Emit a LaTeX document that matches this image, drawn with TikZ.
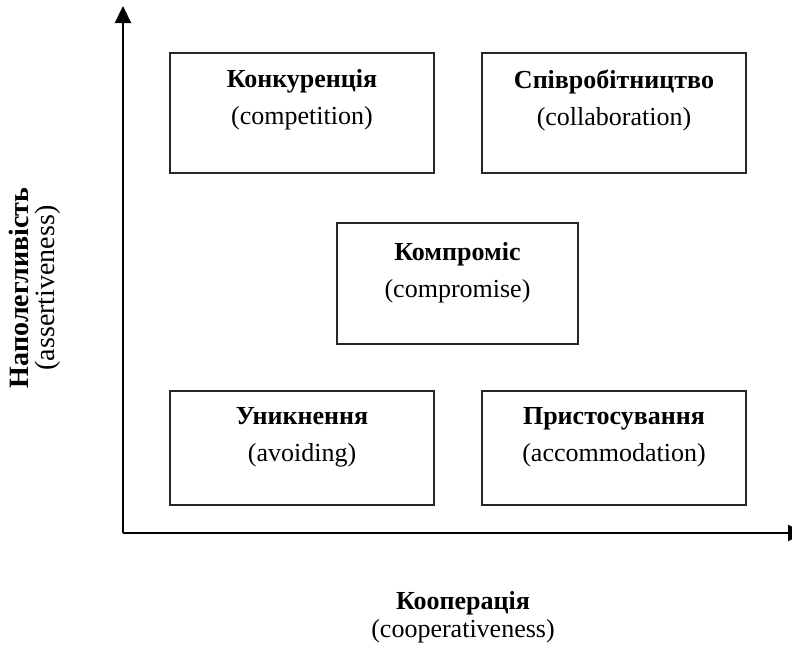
\documentclass[tikz,border=0pt]{standalone}
\usepackage{fontspec}
\setmainfont{Liberation Serif}
\usetikzlibrary{arrows.meta}
\begin{document}
\begin{tikzpicture}[x=1pt,y=-1pt,
  stylebox/.style={draw=black!85, line width=1.2pt, minimum width=#1, inner sep=0pt},
  boxtext/.style={anchor=north, align=center, inner sep=0pt, font=\fontsize{26}{37}\selectfont},
  axis/.style={line width=2.2pt, -{Triangle[width=16pt,length=17pt]}},
  axlabel/.style={align=center, inner sep=0pt, font=\fontsize{26}{28}\selectfont}]
\useasboundingbox (0,0) rectangle (792,645);
\coordinate (O) at (123,533);
\coordinate (ytop) at (123,6);
\coordinate (xend) at (805,533);
\draw[axis] (O) -- (ytop);
\draw[axis] (O) -- (xend);
% boxes
\node[stylebox=264pt, minimum height=120pt] (b1) at (302,113) {};
\node[stylebox=264pt, minimum height=120pt] (b2) at (614,113) {};
\node[stylebox=241pt, minimum height=121pt] (b3) at (457.5,283.5) {};
\node[stylebox=264pt, minimum height=114pt] (b4) at (302,448) {};
\node[stylebox=264pt, minimum height=114pt] (b5) at (614,448) {};
\node[boxtext] (t1) at ([yshift=-17pt]b1.north) {\textbf{Конкуренція}\\(competition)};
\node[boxtext] (t2) at ([yshift=-17pt]b2.north) {\textbf{Співробітництво}\\(collaboration)};
\node[boxtext] (t3) at ([yshift=-20pt]b3.north) {\textbf{Компроміс}\\(compromise)};
\node[boxtext] (t4) at ([yshift=-17pt]b4.north) {\textbf{Уникнення}\\(avoiding)};
\node[boxtext] (t5) at ([yshift=-17pt]b5.north) {\textbf{Пристосування}\\(accommodation)};
% axis labels
\node[axlabel, rotate=90, font=\fontsize{28}{26}\selectfont] (ylab) at (35,288) {\textbf{Наполегливість}\\(assertiveness)};
\node[axlabel] (xlab) at (463,617) {\textbf{Кооперація}\\(cooperativeness)};
\end{tikzpicture}
\end{document}
